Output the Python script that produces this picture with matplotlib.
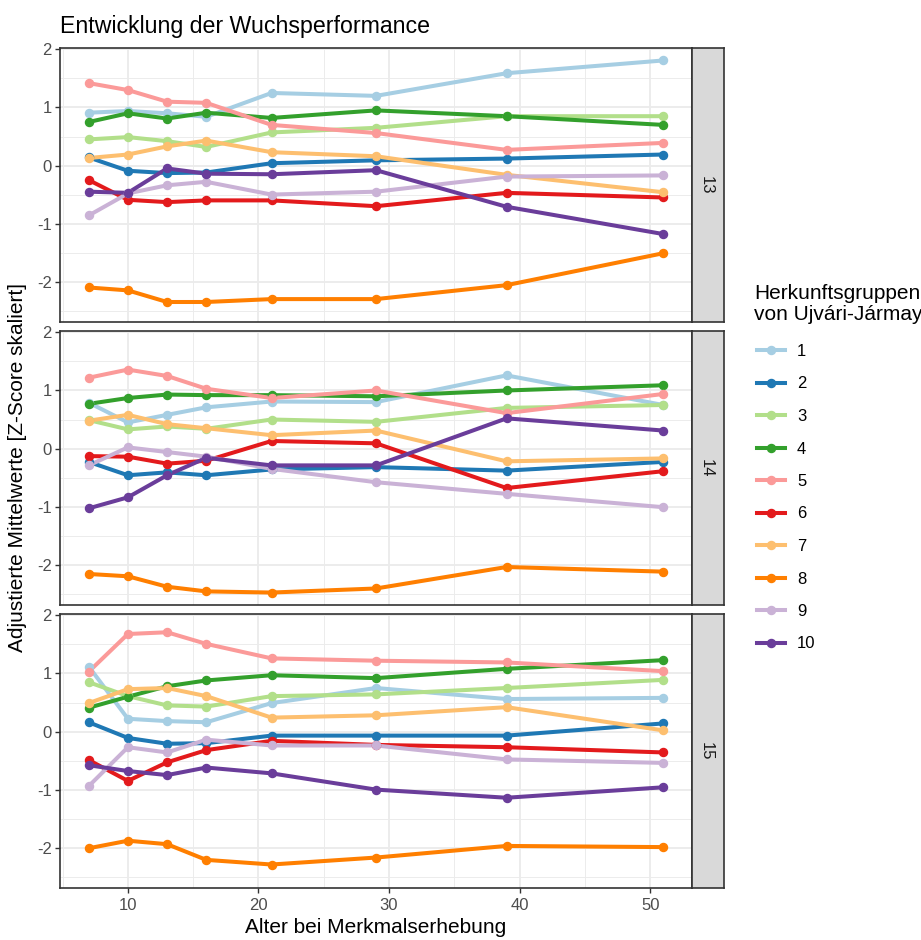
import matplotlib
matplotlib.use("Agg")
import matplotlib.pyplot as plt
from matplotlib.lines import Line2D
from matplotlib.ticker import MultipleLocator
import numpy as np

plt.rcParams['font.family'] = ['Liberation Sans', 'DejaVu Sans']

# Alter der Bäume bei den Aufnahmen
alter = [7, 10, 13, 16, 21, 29, 39, 51]

# Herkunftsgruppen nach Ujvári-Jármay
gruppen = ['1', '2', '3', '4', '5', '6', '7', '8', '9', '10']

farben = ['#A6CEE3', '#1F78B4', '#B2DF8A', '#33A02C', '#FB9A99',
          '#E31A1C', '#FDBF6F', '#FF7F00', '#CAB2D6', '#6A3D9A']

facetten = ['13', '14', '15']

# Adjustierte Mittelwerte (Z-Score) je Gruppe, eine Zeile pro Gruppe
werte_13 = [
    [0.91, 0.94, 0.90, 0.84, 1.25, 1.20, 1.59, 1.81],
    [0.14, -0.09, -0.13, -0.12, 0.04, 0.09, 0.12, 0.19],
    [0.45, 0.49, 0.42, 0.32, 0.57, 0.65, 0.85, 0.85],
    [0.75, 0.90, 0.81, 0.91, 0.82, 0.95, 0.85, 0.70],
    [1.42, 1.30, 1.10, 1.08, 0.70, 0.56, 0.27, 0.39],
    [-0.25, -0.59, -0.63, -0.60, -0.60, -0.70, -0.47, -0.55],
    [0.13, 0.19, 0.33, 0.43, 0.23, 0.16, -0.16, -0.46],
    [-2.10, -2.15, -2.35, -2.35, -2.30, -2.30, -2.06, -1.51],
    [-0.86, -0.48, -0.34, -0.28, -0.50, -0.45, -0.19, -0.17],
    [-0.45, -0.47, -0.05, -0.14, -0.15, -0.08, -0.71, -1.18],
]

werte_14 = [
    [0.79, 0.45, 0.58, 0.71, 0.81, 0.80, 1.26, 0.75],
    [-0.23, -0.46, -0.41, -0.46, -0.36, -0.32, -0.38, -0.23],
    [0.49, 0.33, 0.38, 0.34, 0.50, 0.46, 0.70, 0.75],
    [0.77, 0.87, 0.93, 0.92, 0.92, 0.90, 1.00, 1.09],
    [1.22, 1.36, 1.25, 1.03, 0.87, 1.00, 0.61, 0.94],
    [-0.13, -0.14, -0.26, -0.21, 0.13, 0.09, -0.68, -0.39],
    [0.48, 0.58, 0.42, 0.35, 0.23, 0.31, -0.22, -0.17],
    [-2.16, -2.20, -2.38, -2.46, -2.48, -2.41, -2.04, -2.12],
    [-0.29, 0.02, -0.06, -0.14, -0.35, -0.58, -0.78, -1.01],
    [-1.03, -0.84, -0.46, -0.16, -0.29, -0.29, 0.52, 0.31],
]

werte_15 = [
    [1.12, 0.22, 0.18, 0.16, 0.49, 0.75, 0.56, 0.58],
    [0.16, -0.11, -0.21, -0.20, -0.07, -0.07, -0.07, 0.14],
    [0.85, 0.61, 0.45, 0.43, 0.61, 0.64, 0.75, 0.89],
    [0.41, 0.60, 0.78, 0.88, 0.97, 0.92, 1.08, 1.23],
    [1.03, 1.68, 1.71, 1.51, 1.26, 1.22, 1.19, 1.04],
    [-0.49, -0.85, -0.53, -0.32, -0.16, -0.23, -0.27, -0.36],
    [0.49, 0.73, 0.75, 0.61, 0.24, 0.28, 0.42, 0.02],
    [-2.01, -1.88, -1.94, -2.21, -2.29, -2.17, -1.97, -1.99],
    [-0.94, -0.27, -0.36, -0.14, -0.24, -0.24, -0.48, -0.54],
    [-0.58, -0.68, -0.75, -0.62, -0.72, -1.00, -1.14, -0.96],
]

alle_werte = [werte_13, werte_14, werte_15]

W, H = 921, 940
fig = plt.figure(figsize=(W / 100, H / 100), dpi=100)

# Achsenbereiche wie bei ggplot: 5 % Erweiterung
x_arr = np.array(alter, dtype=float)
xr = x_arr.max() - x_arr.min()
xlim = (x_arr.min() - 0.05 * xr, x_arr.max() + 0.05 * xr)
y_all = np.array(alle_werte, dtype=float)
yr = y_all.max() - y_all.min()
ylim = (y_all.min() - 0.05 * yr, y_all.max() + 0.05 * yr)

left_px, right_px = 60, 692
strip_w = 32
panel_h = 274
tops = [48, 331, 614]

rahmen = '#333333'
gitter = '#EBEBEB'
tickfarbe = '#4D4D4D'

axes = []
for i, (top, werte, fac) in enumerate(zip(tops, alle_werte, facetten)):
    ax = fig.add_axes([left_px / W, 1 - (top + panel_h) / H,
                       (right_px - left_px) / W, panel_h / H])
    axes.append(ax)
    for g, farbe in enumerate(farben):
        ax.plot(alter, werte[g], color=farbe, lw=2.9, solid_capstyle='butt',
                solid_joinstyle='round', zorder=3)
    for g, farbe in enumerate(farben):
        ax.plot(alter, werte[g], linestyle='none', marker='o', ms=5.8,
                color=farbe, mec=farbe, zorder=4)

    ax.set_xlim(xlim)
    ax.set_ylim(ylim)
    ax.xaxis.set_major_locator(MultipleLocator(10))
    ax.xaxis.set_minor_locator(MultipleLocator(5))
    ax.yaxis.set_major_locator(MultipleLocator(1))
    ax.yaxis.set_minor_locator(MultipleLocator(0.5))
    ax.grid(which='major', color=gitter, lw=1.3, zorder=0)
    ax.grid(which='minor', color=gitter, lw=0.65, zorder=0)
    ax.set_axisbelow(True)
    ax.tick_params(which='minor', length=0)
    ax.tick_params(which='major', length=3.5, width=1.0, color=rahmen,
                   labelsize=12, labelcolor=tickfarbe)
    ax.tick_params(axis='x', pad=3.5)
    ax.tick_params(axis='y', pad=2.5)
    for sp in ax.spines.values():
        sp.set_color(rahmen)
        sp.set_linewidth(1.2)
    ax.set_yticks([-2, -1, 0, 1, 2])
    ax.set_yticklabels(['-2', '-1', '0', '1', '2'])
    if i < 2:
        ax.tick_params(axis='x', which='both', bottom=False, labelbottom=False)

    # Facettenstreifen rechts
    sax = fig.add_axes([right_px / W, 1 - (top + panel_h) / H,
                        strip_w / W, panel_h / H])
    sax.set_facecolor('#D9D9D9')
    sax.set_xticks([])
    sax.set_yticks([])
    for sp in sax.spines.values():
        sp.set_color(rahmen)
        sp.set_linewidth(1.2)
    sax.text(0.45, 0.5, fac, rotation=-90, ha='center', va='center',
             fontsize=12, color='#1A1A1A', transform=sax.transAxes)

axes[-1].set_xlabel('Alter bei Merkmalserhebung', fontsize=15,
                    color='black', labelpad=4)
fig.text(18 / W, 1 - 468 / H, 'Adjustierte Mittelwerte [Z-Score skaliert]',
         rotation=90, ha='center', va='center', fontsize=15)
fig.text(60 / W, 1 - 27 / H, 'Entwicklung der Wuchsperformance',
         ha='left', va='center', fontsize=16.7)

# Legende: Titel als eigener Text, darunter die Einträge
fig.text(754 / W, 1 - 304 / H, 'Herkunftsgruppen\nvon Ujvári-Jármay',
         ha='left', va='center', fontsize=15, linespacing=1.08)
handles = [Line2D([], [], color=f, lw=2.9, marker='o', ms=5.8) for f in farben]
leg = fig.legend(handles, gruppen,
                 loc='upper left', bbox_to_anchor=(757 / W, 1 - 344 / H),
                 frameon=False, fontsize=12, borderpad=0,
                 handlelength=1.65, handletextpad=0.75, labelspacing=1.05,
                 borderaxespad=0)

fig.savefig('out.png', dpi=100)
